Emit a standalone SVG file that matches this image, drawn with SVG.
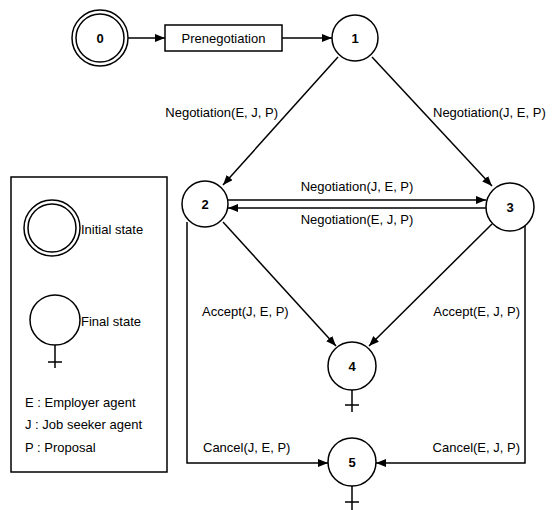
<svg xmlns="http://www.w3.org/2000/svg" width="558" height="510" viewBox="0 0 558 510">
<defs>
<marker id="ah" viewBox="0 0 10 8" refX="10" refY="4" markerWidth="10" markerHeight="8" markerUnits="userSpaceOnUse" orient="auto">
<path d="M0,0 L10,4 L0,8 Z" fill="#000"/>
</marker>
<style>
.st{fill:#fff;stroke:#000;stroke-width:1.5}
.ln{fill:none;stroke:#000;stroke-width:1.5}
.e{fill:none;stroke:#000;stroke-width:1.5;marker-end:url(#ah)}
.num{font-family:"Liberation Sans",Arial,sans-serif;font-size:13px;font-weight:bold;text-anchor:middle}
.lb{font-family:"Liberation Sans",Arial,sans-serif;font-size:13px;fill:#000}
</style>
</defs>
<rect width="558" height="510" fill="#fff"/>

<g id="connectors">
<line class="e" x1="128" y1="38" x2="165" y2="38"/>
<line class="e" x1="282" y1="38" x2="332" y2="38"/>
<line class="e" x1="338" y1="57" x2="223" y2="185"/>
<line class="e" x1="372" y1="57" x2="492" y2="186"/>
<line class="e" x1="228" y1="200" x2="486" y2="200"/>
<line class="e" x1="486" y1="208" x2="228" y2="208"/>
<line class="e" x1="223" y1="222" x2="336" y2="346"/>
<line class="e" x1="492" y1="224" x2="369" y2="346"/>
<polyline class="e" points="187,222 187,463 328,463"/>
<polyline class="e" points="525,225 525,463 376,463"/>
<text class="lb" x="278" y="117" text-anchor="end">Negotiation(E, J, P)</text>
<text class="lb" x="433" y="117">Negotiation(J, E, P)</text>
<text class="lb" x="357" y="191" text-anchor="middle">Negotiation(J, E, P)</text>
<text class="lb" x="357" y="224" text-anchor="middle">Negotiation(E, J, P)</text>
<text class="lb" x="202" y="316">Accept(J, E, P)</text>
<text class="lb" x="520" y="316" text-anchor="end">Accept(E, J, P)</text>
<text class="lb" x="203" y="452">Cancel(J, E, P)</text>
<text class="lb" x="520" y="452" text-anchor="end">Cancel(E, J, P)</text>
</g>

<g id="node0">
<circle class="st" cx="100" cy="38" r="28"/>
<circle class="st" cx="100" cy="38" r="24"/>
<text class="num" x="100" y="43">0</text>
</g>
<g id="prenegotiation">
<rect class="st" x="165" y="25" width="117" height="26"/>
<text class="lb" x="223.5" y="43" text-anchor="middle">Prenegotiation</text>
</g>
<g id="node1">
<circle class="st" cx="355" cy="38" r="23"/>
<text class="num" x="355" y="43">1</text>
</g>
<g id="node2">
<circle class="st" cx="205" cy="204" r="23"/>
<text class="num" x="205" y="209">2</text>
</g>
<g id="node3">
<circle class="st" cx="510" cy="207" r="24"/>
<text class="num" x="510" y="212">3</text>
</g>
<g id="node4">
<circle class="st" cx="352" cy="366" r="24"/>
<line class="ln" x1="352" y1="390" x2="352" y2="412"/>
<line class="ln" x1="345" y1="405" x2="359" y2="405"/>
<text class="num" x="352" y="371">4</text>
</g>
<g id="node5">
<circle class="st" cx="352" cy="462" r="24"/>
<line class="ln" x1="352" y1="486" x2="352" y2="510"/>
<line class="ln" x1="345" y1="502" x2="359" y2="502"/>
<text class="num" x="352" y="467">5</text>
</g>

<g id="legend">
<rect class="st" x="11" y="177" width="156" height="295"/>
<circle class="st" cx="52" cy="228" r="28"/>
<circle class="st" cx="52" cy="228" r="24"/>
<text class="lb" x="81" y="234">Initial state</text>
<circle class="st" cx="55" cy="320" r="25"/>
<line class="ln" x1="55" y1="345" x2="55" y2="368"/>
<line class="ln" x1="48" y1="362" x2="62" y2="362"/>
<text class="lb" x="81" y="326">Final state</text>
<text class="lb" x="25" y="407">E : Employer agent</text>
<text class="lb" x="25" y="429">J : Job seeker agent</text>
<text class="lb" x="25" y="452">P : Proposal</text>
</g>
</svg>
